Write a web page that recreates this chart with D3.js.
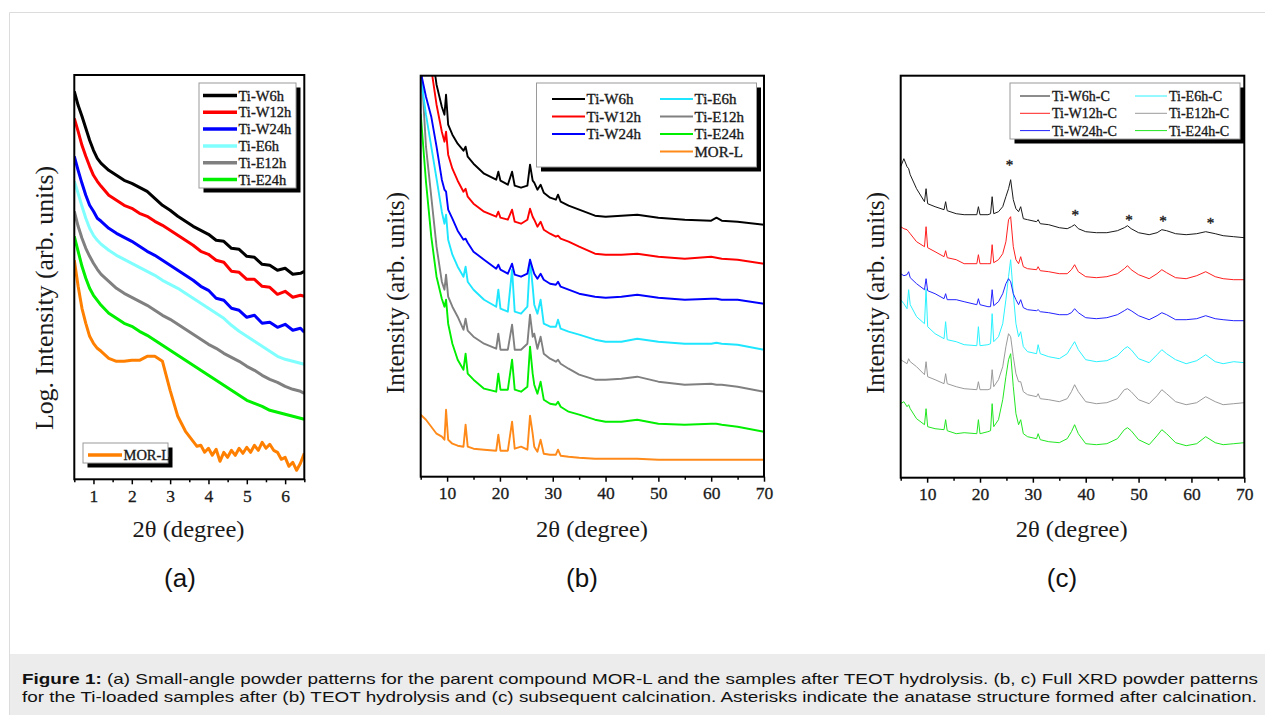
<!DOCTYPE html>
<html>
<head>
<meta charset="utf-8">
<script src="https://cdn.jsdelivr.net/npm/d3@7"></script>
<style>
  body { margin: 0; background: #fff; }
  svg { display: block; }
</style>
</head>
<body>
<svg id="fig" width="1265" height="715"></svg>
<script>
// ---- panel (a): small-angle patterns, log intensity (arb. units) ----
var xa = [0.5, 0.6, 0.7, 0.8, 0.9, 1.0, 1.1, 1.2, 1.4, 1.6, 1.8, 2.0, 2.2, 2.4, 2.6, 2.8, 3.0, 3.2,
          3.4, 3.6, 3.8, 4.0, 4.2, 4.4, 4.6, 4.8, 5.0, 5.2, 5.4, 5.6, 5.8, 6.0, 6.2, 6.4, 6.5];
var aW6h  = [388,374,363,351,339, 329,321,316,309,304, 299,296,292,288,281, 274,269,263,258,253,
             249,245,239,238,231, 230,223,222,215,214, 209,211,205,206,208];
var aW12h = [361,348,334,323,313, 304,298,293,284,279, 274,271,266,263,258, 254,249,244,239,234,
             228,225,219,217,208, 207,200,200,193,192, 185,188,182,184,183];
var aW24h = [323,309,296,284,274, 268,261,258,251,246, 242,238,233,228,224, 219,214,209,204,199,
             193,189,181,179,171, 169,162,164,156,157, 152,155,149,151,147];
var aE6h  = [298,286,273,261,251, 244,239,235,229,224, 220,216,212,208,204, 199,195,191,186,181,
             176,171,166,161,154, 148,143,138,133,128, 123,120,118,116,115];
var aE12h = [268,253,241,231,223, 216,210,205,198,191, 186,182,178,174,169, 164,160,155,150,145,
             140,135,131,126,122, 118,113,109,104,100, 97,93,90,88,86];
var aE24h = [243,228,213,201,191, 184,179,174,166,161, 156,153,148,144,139, 134,129,124,119,114,
             109,104,99,94,89, 84,79,76,73,69, 67,65,63,61,60];
// MOR-L is much noisier, so it is read on a finer grid
var xaMOR = [0.5, 0.6, 0.7, 0.8, 0.9, 1.0, 1.1, 1.2, 1.4, 1.6, 1.8, 2.0, 2.2, 2.4, 2.6, 2.8, 3.0, 3.2,
             3.4, 3.6, 3.7, 3.8, 3.9, 4.0, 4.1, 4.2, 4.3, 4.4, 4.5, 4.6, 4.7, 4.8, 4.9, 5.0, 5.1, 5.2,
             5.3, 5.4, 5.5, 5.6, 5.7, 5.8, 5.9, 6.0, 6.1, 6.2, 6.3, 6.4, 6.5];
var aMOR  = [219,193,171,156,143, 136,131,128,121,118, 118,119,119,123,123, 118,89,63,48,
             38,33,34,27,31, 24,30,18,27,22, 29,24,31,26,32, 27,34,29,37,31,
             35,29,27,20,22, 13,17,9,16,26];
var aTicks = [1, 2, 3, 4, 5, 6];
var aMinor = [0.5, 1.5, 2.5, 3.5, 4.5, 5.5, 6.5];

// ---- panel (b): full XRD after TEOT hydrolysis ----
var xb = [5, 6, 7, 8, 9, 9.5, 9.8, 10.2, 11, 12, 13.1, 13.5, 13.9, 15, 17, 19.3, 19.7, 20.1, 21.5, 22.3,
          22.8, 24, 25.2, 25.7, 26.2, 26.5, 27.1, 27.7, 28.3, 29.5, 30.6, 31, 31.5, 33, 35, 38, 40, 43,
          46, 50, 55, 60, 61, 62, 65, 70];
var bW6h  = [560,490,430,392,370, 362,382,352,342,333, 326,330,320,313,303, 297,305,296,292,305,
             291,289,291,312,296, 294,287,292,284,279, 277,282,275,271,267, 261,260,261,262,259,
             257,256,259,256,255, 252];
var bW12h = [620,500,408,372,345, 335,345,322,308,296, 285,288,280,273,265, 260,265,259,257,267,
             255,253,257,268,260, 257,250,255,247,243, 240,241,238,235,230, 223,222,222,223,220,
             218,220,219,218,217, 213];
var bW24h = [405,380,360,330,297, 287,285,267,258,246, 237,238,234,225,217, 208,212,207,203,213,
             202,200,203,217,208, 203,198,203,197,193, 192,195,190,187,183, 180,179,180,182,179,
             177,178,178,177,177, 173];
var bE6h  = [400,362,330,298,265, 253,262,237,222,210, 200,210,195,187,177, 170,187,168,165,207,
             165,163,170,217,190, 172,163,177,153,150, 150,157,148,145,142, 137,135,135,138,135,
             133,133,134,133,132, 127];
var bE12h = [420,330,280,230,195, 187,202,180,170,160, 147,158,146,140,133, 128,143,127,127,152,
             127,127,133,162,140, 143,128,140,123,118, 115,117,113,108,102, 97,97,98,100,95,
             92,93,92,92,90, 85];
var bE24h = [363,295,240,200,178, 170,177,153,133,117, 107,123,103,97,88, 85,103,87,87,117,
             87,85,90,130,103, 92,83,95,77,73, 72,75,70,65,62, 57,55,55,57,53,
             52,53,53,52,50, 45];
var bMOR  = [62,57,50,43,40, 37,67,37,33,31, 30,52,30,28,27, 26,42,26,26,55,
             28,30,27,61,43, 30,25,37,23,22, 22,27,21,20,19, 18,18,18,18,17,
             17,17,17,17,17, 17];

// ---- panel (c): full XRD after calcination ----
var xc = [5, 5.6, 6.2, 6.5, 6.8, 8, 9.5, 9.8, 10.1, 11.5, 13.2, 13.5, 13.8, 15.5, 17, 19.4, 19.7, 20,
          21.5, 22, 22.3, 22.6, 23.5, 24.3, 24.9, 25.4, 25.8, 26.3, 26.8, 27.3, 27.7, 28.2, 29, 30.7,
          31, 31.4, 33, 35, 36.5, 37.3, 37.9, 38.6, 40, 42, 44, 46, 47.3, 47.9, 48.6, 50, 52, 53.5,
          54.4, 55.3, 57, 59, 61, 62.7, 64.5, 66, 68, 70];
var cW6h  = [311,319,311,309,303, 289,276,289,274,271, 268,276,267,264,263, 263,271,263,263,264,
             281,264,266,271,281, 289,298,278,269,266, 271,259,258,256,258, 254,253,250,249,251,
             253,249,246,245,245, 247,250,252,249,245, 243,245,248,247,244, 243,244,246,244,242,
             241,240];
var cW12h = [251,249,248,246,244, 236,231,251,230,226, 221,227,220,218,214, 214,223,214,214,214,
             233,215,218,224,236, 258,261,231,218,214, 221,211,209,208,211, 207,206,204,204,208,
             213,206,201,200,201, 204,209,212,208,203, 199,204,208,205,200, 199,202,206,201,199,
             198,198];
var cW24h = [204,202,203,206,200, 194,188,199,187,184, 179,184,178,178,176, 173,179,173,171,171,
             188,172,176,184,194, 199,196,184,178,173, 178,170,168,167,168, 166,165,163,163,165,
             169,165,160,159,160, 163,167,169,167,162, 158,162,165,163,158, 158,159,162,159,158,
             157,157];
var cE6h  = [178,174,169,188,173, 161,154,189,151,144, 139,156,138,136,133, 132,151,132,133,134,
             164,136,141,154,178, 201,218,184,154,141, 146,131,126,124,133, 124,121,119,124,131,
             136,128,118,116,117, 122,129,131,128,119, 115,123,128,124,118, 114,117,123,116,114,
             116,115];
var cE12h = [118,116,114,119,116, 111,103,116,101,98, 94,104,94,91,89, 88,96,88,88,89,
             108,91,98,111,131, 144,141,121,104,96, 96,86,83,81,84, 79,78,76,79,86,
             93,86,76,74,75, 79,88,89,86,78, 74,82,88,84,76, 73,75,81,76,73,
             74,75];
var cE24h = [74,76,71,73,69, 59,53,69,51,49, 48,58,47,44,45, 44,58,44,46,47,
             74,51,58,78,101, 118,124,91,64,53, 58,44,41,39,44, 38,36,35,39,46,
             53,44,34,33,34, 39,48,50,47,38, 33,42,48,44,35, 32,34,41,35,33,
             34,35];
// anatase reflections marked with asterisks
var starX = [25.6, 38, 48.2, 54.6, 63.6];
var starY = [315, 265, 260, 259, 257];
var bcTicks = [10, 20, 30, 40, 50, 60, 70];
var bcMinor = [5, 15, 25, 35, 45, 55, 65];

var captionLines = [
  ["Figure 1:", " (a) Small-angle powder patterns for the parent compound MOR-L and the samples after TEOT hydrolysis. (b, c) Full XRD powder patterns"],
  ["", "for the Ti-loaded samples after (b) TEOT hydrolysis and (c) subsequent calcination. Asterisks indicate the anatase structure formed after calcination."]
];

var serif = "'Liberation Serif', 'DejaVu Serif', serif";
var sans = "'Liberation Sans', Arial, sans-serif";

var svg = d3.select("#fig");

// page frame and caption band
svg.append("rect").attr("x", 0).attr("y", 0).attr("width", 1265).attr("height", 715).attr("fill", "#fff");
svg.append("path").attr("d", "M9.5,715V12.5H1265").attr("fill", "none").attr("stroke", "#dcdcdc").attr("stroke-width", 1);
svg.append("rect").attr("x", 10).attr("y", 654).attr("width", 1255).attr("height", 61).attr("fill", "#ececec");

var panels = [
  {
    id: "a", xs: xa, left: 74.3, right: 304.3, top: 75, bottom: 479.3, xDomain: [0.5, 6.5], yDomain: [0, 404.3],
    ticks: aTicks, minor: aMinor, lineWidth: 3,
    ytitle: "Log. Intensity (arb. units)", ytitleX: 45, ytitleY: 298, ytitleLen: 264,
    xtitleX: 188.5, label: "(a)", labelX: 180,
    series: [
      { name: "Ti-W6h", v: aW6h, c: "#000000" },
      { name: "Ti-W12h", v: aW12h, c: "#ff0000" },
      { name: "Ti-W24h", v: aW24h, c: "#0000ff" },
      { name: "Ti-E6h", v: aE6h, c: "#80ffff" },
      { name: "Ti-E12h", v: aE12h, c: "#808080" },
      { name: "Ti-E24h", v: aE24h, c: "#00f000" },
      { name: "MOR-L", v: aMOR, xs: xaMOR, c: "#ff8000" }
    ],
    legends: [
      { x: 199, y: 83, w: 97, h: 105, font: 14.5, lw: 3.5,
        cols: [{ x0: 203, x1: 237, tx: 238.5, y0: 95.5, dy: 16.8, names: ["Ti-W6h", "Ti-W12h", "Ti-W24h", "Ti-E6h", "Ti-E12h", "Ti-E24h"] }] },
      { x: 83, y: 443, w: 85, h: 20, font: 14.5, lw: 3.5,
        cols: [{ x0: 88, x1: 122, tx: 123.5, y0: 455, dy: 0, names: ["MOR-L"] }] }
    ]
  },
  {
    id: "b", xs: xb, left: 420.7, right: 764, top: 75.7, bottom: 476.7, xDomain: [5, 70], yDomain: [0, 401],
    ticks: bcTicks, minor: bcMinor, lineWidth: 1.9,
    ytitle: "Intensity (arb. units)", ytitleX: 396, ytitleY: 293, ytitleLen: 202,
    xtitleX: 592, label: "(b)", labelX: 582,
    series: [
      { name: "MOR-L", v: bMOR, c: "#ff8a1a" },
      { name: "Ti-E24h", v: bE24h, c: "#00ee00" },
      { name: "Ti-E12h", v: bE12h, c: "#808080" },
      { name: "Ti-E6h", v: bE6h, c: "#1ee6ff" },
      { name: "Ti-W24h", v: bW24h, c: "#0000ff" },
      { name: "Ti-W12h", v: bW12h, c: "#ff0000" },
      { name: "Ti-W6h", v: bW6h, c: "#000000" }
    ],
    legends: [
      { x: 536.5, y: 83, w: 220, h: 84, font: 15, lw: 2,
        cols: [
          { x0: 552, x1: 585, tx: 586.5, y0: 99, dy: 17.5, names: ["Ti-W6h", "Ti-W12h", "Ti-W24h"] },
          { x0: 660, x1: 693, tx: 694.5, y0: 99, dy: 17.5, names: ["Ti-E6h", "Ti-E12h", "Ti-E24h", "MOR-L"] }
        ] }
    ]
  },
  {
    id: "c", xs: xc, left: 900.7, right: 1244.3, top: 75.7, bottom: 477.7, xDomain: [5, 70], yDomain: [0, 402],
    ticks: bcTicks, minor: bcMinor, lineWidth: 1,
    ytitle: "Intensity (arb. units)", ytitleX: 876, ytitleY: 293, ytitleLen: 202,
    xtitleX: 1071.7, label: "(c)", labelX: 1062,
    series: [
      { name: "Ti-E24h-C", v: cE24h, c: "#22e622" },
      { name: "Ti-E12h-C", v: cE12h, c: "#9a9a9a" },
      { name: "Ti-E6h-C", v: cE6h, c: "#2af2ff" },
      { name: "Ti-W24h-C", v: cW24h, c: "#2222ff" },
      { name: "Ti-W12h-C", v: cW12h, c: "#ff1f1f" },
      { name: "Ti-W6h-C", v: cW6h, c: "#1a1a1a" }
    ],
    stars: true,
    legends: [
      { x: 1010, y: 83, w: 230, h: 56, font: 14, lw: 1,
        cols: [
          { x0: 1020, x1: 1050, tx: 1052, y0: 96, dy: 17.3, names: ["Ti-W6h-C", "Ti-W12h-C", "Ti-W24h-C"] },
          { x0: 1135, x1: 1167, tx: 1169, y0: 96, dy: 17.3, names: ["Ti-E6h-C", "Ti-E12h-C", "Ti-E24h-C"] }
        ] }
    ]
  }
];

function colorOf(p, name) {
  var s = p.series.filter(function(d) { return d.name === name; })[0];
  return s ? s.c : "#000";
}

function drawLegend(p, lg) {
  var g = svg.append("g").attr("class", "legend");
  g.append("rect").attr("x", lg.x + 4.5).attr("y", lg.y + 4.5).attr("width", lg.w).attr("height", lg.h).attr("fill", "#000");
  g.append("rect").attr("x", lg.x).attr("y", lg.y).attr("width", lg.w).attr("height", lg.h)
    .attr("fill", "#fff").attr("stroke", "#9a9a9a").attr("stroke-width", 1);
  lg.cols.forEach(function(col) {
    col.names.forEach(function(name, i) {
      var yy = col.y0 + i * col.dy;
      g.append("line").attr("x1", col.x0).attr("x2", col.x1).attr("y1", yy).attr("y2", yy)
        .attr("stroke", colorOf(p, name)).attr("stroke-width", lg.lw);
      g.append("text").attr("x", col.tx).attr("y", yy).attr("dy", "0.35em")
        .attr("font-family", serif).attr("font-size", lg.font).attr("fill", "#1a1a1a")
        .attr("stroke", "#1a1a1a").attr("stroke-width", 0.35)
        .text(name);
    });
  });
}

function drawPanel(p) {
  var x = d3.scaleLinear().domain(p.xDomain).range([p.left, p.right]);
  var y = d3.scaleLinear().domain(p.yDomain).range([p.bottom, p.top]);

  svg.append("clipPath").attr("id", "clip-" + p.id).append("rect")
    .attr("x", p.left).attr("y", p.top).attr("width", p.right - p.left).attr("height", p.bottom - p.top);

  var plot = svg.append("g").attr("clip-path", "url(#clip-" + p.id + ")");
  plot.selectAll("path.trace").data(p.series).enter().append("path")
    .attr("class", "trace")
    .attr("d", function(s) {
      var xs = s.xs || p.xs;
      return d3.line()
        .x(function(d, i) { return x(xs[i]); })
        .y(function(d) { return y(d); })(s.v);
    })
    .attr("fill", "none")
    .attr("stroke", function(s) { return s.c; })
    .attr("stroke-width", p.lineWidth)
    .attr("stroke-linejoin", "round");

  if (p.stars) {
    svg.selectAll("text.star").data(starX).enter().append("text")
      .attr("class", "star")
      .attr("x", function(d) { return x(d); })
      .attr("y", function(d, i) { return y(starY[i]) + 7; })
      .attr("text-anchor", "middle").attr("font-family", serif).attr("font-size", 15).attr("fill", "#222")
      .attr("stroke", "#222").attr("stroke-width", 0.4)
      .text("*");
  }

  // frame
  svg.append("rect").attr("x", p.left).attr("y", p.top).attr("width", p.right - p.left).attr("height", p.bottom - p.top)
    .attr("fill", "none").attr("stroke", "#000").attr("stroke-width", 2);

  var gx = svg.append("g").attr("transform", "translate(0," + p.bottom + ")");
  gx.call(d3.axisBottom(x).tickValues(p.ticks).tickSize(5).tickPadding(5).tickFormat(d3.format("d")));
  gx.select(".domain").remove();
  gx.selectAll("line").attr("stroke", "#000").attr("stroke-width", 1.5);
  gx.selectAll("text").attr("font-family", serif).attr("font-size", 17.5).attr("fill", "#1a1a1a")
    .attr("stroke", "#1a1a1a").attr("stroke-width", 0.3);

  var gm = svg.append("g").attr("transform", "translate(0," + p.bottom + ")");
  gm.call(d3.axisBottom(x).tickValues(p.minor).tickSize(3).tickFormat(""));
  gm.select(".domain").remove();
  gm.selectAll("line").attr("stroke", "#000").attr("stroke-width", 1.5);

  // axis titles
  svg.append("text").attr("x", p.xtitleX).attr("y", 537).attr("text-anchor", "middle")
    .attr("font-family", serif).attr("font-size", 24).attr("fill", "#1a1a1a")
    .attr("textLength", 112).attr("lengthAdjust", "spacingAndGlyphs")
    .text("2\u03b8 (degree)");
  svg.append("text")
    .attr("transform", "translate(" + (p.ytitleX + 8) + "," + p.ytitleY + ") rotate(-90)")
    .attr("text-anchor", "middle").attr("font-family", serif).attr("font-size", 25).attr("fill", "#1a1a1a")
    .attr("textLength", p.ytitleLen).attr("lengthAdjust", "spacingAndGlyphs")
    .text(p.ytitle);

  // panel letter
  svg.append("text").attr("x", p.labelX).attr("y", 587).attr("text-anchor", "middle")
    .attr("font-family", sans).attr("font-size", 26).attr("fill", "#111").text(p.label);

  p.legends.forEach(function(lg) { drawLegend(p, lg); });
}

panels.forEach(drawPanel);

// caption
captionLines.forEach(function(parts, i) {
  var t = svg.append("text").attr("x", 22).attr("y", 684 + i * 18)
    .attr("font-family", sans).attr("font-size", 15).attr("fill", "#111")
    .attr("textLength", i === 0 ? 1236 : 1235).attr("lengthAdjust", "spacingAndGlyphs");
  if (parts[0]) t.append("tspan").attr("font-weight", "bold").text(parts[0]);
  t.append("tspan").text(parts[1]);
});
</script>
</body>
</html>
